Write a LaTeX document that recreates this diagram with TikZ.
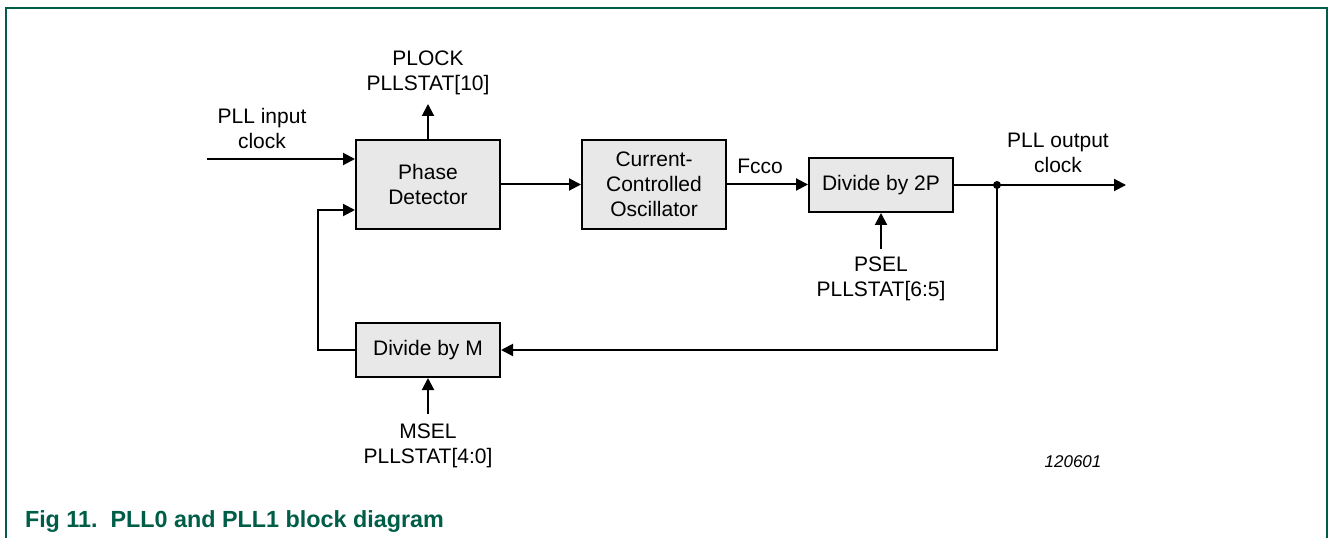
\documentclass[tikz,border=0pt]{standalone}
\usepackage{fontspec}
\setmainfont{Liberation Sans}
\usetikzlibrary{arrows.meta}

\definecolor{framegreen}{RGB}{0,94,72}
\definecolor{boxgray}{RGB}{232,232,232}
\newcommand{\lblfont}{\fontsize{15.75}{18.75}\selectfont}

\tikzset{every picture/.style={line width=1.5pt}}
\tikzset{
  blk/.style={draw, fill=boxgray, line width=1.5pt, inner sep=0pt, align=center, font=\lblfont, minimum width=108pt},
  lbl/.style={inner sep=0.75pt, align=center, font=\lblfont},
  sig/.style={-{Triangle[length=9pt,width=9pt]}, line width=1.5pt},
}

\begin{document}
\begin{tikzpicture}[x=0.75pt,y=0.75pt,yscale=-1]
%set diagram area 1330 x 538
\useasboundingbox (0,0) rectangle (1330,538);

%Frame
\draw [color=framegreen, line width=1.2pt] (6,538) -- (6,8) -- (1327,8) -- (1327,538) ;

%Shapes: Rectangles
\node [blk, minimum height=66.75pt] (pd) at (428,184.5) {Phase\\Detector};
\node [blk, minimum height=66.75pt] (cco) at (654,184.5) {Current-\\Controlled\\Oscillator};
\node [blk, minimum height=40.5pt] (divp) at (881,185) {Divide by 2P};
\node [blk, minimum height=40.5pt] (divm) at (428,350) {Divide by M};

%Free ends
\coordinate (clkin) at (207,159);
\coordinate (plock) at (428,104);
\coordinate (fb) at (318,210);
\coordinate (split) at (997,185);
\coordinate (clkout) at (1126,185);
\coordinate (psel) at (881,249);
\coordinate (msel) at (428,414);

% Text Node
\node [lbl] (inlbl) at (262,128) {PLL input\\clock};
% Text Node
\node [lbl] (plocklbl) at (428,73) {PLOCK\\PLLSTAT[10]};
% Text Node
\node [lbl] (fccolbl) at (760,166) {Fcco};
% Text Node
\node [lbl] (outlbl) at (1058,153) {PLL output\\clock};
% Text Node
\node [lbl] (psellbl) at (881,279) {PSEL\\PLLSTAT[6:5]};
% Text Node
\node [lbl] (msellbl) at (428,445.5) {MSEL\\PLLSTAT[4:0]};
% Text Node
\node [inner sep=0pt, font=\fontsize{12.75}{15}\selectfont\itshape] (figid) at (1073,462) {120601};
% Text Node
\node [anchor=base west, inner sep=0pt, text=framegreen, font=\fontsize{17.5}{21}\selectfont\bfseries] (caption) at (24,527) {Fig 11.\ \ PLL0 and PLL1 block diagram};

%Straight Lines
\draw [sig] (clkin) -- (clkin -| pd.west) ;
\draw [sig] (pd.north) -- (plock) ;
\draw [sig] (pd.east) -- (cco.west |- pd.east) ;
\draw [sig] (cco.east) -- (divp.west |- cco.east) ;
\draw [sig] (divp.east) -- (clkout) ;
\draw [sig] (psel) -- (divp.south) ;
\draw [sig] (split) |- (divm.east) ;
\draw [sig] (divm.west) -| (fb) -- (fb -| pd.west) ;
\draw [sig] (msel) -- (divm.south) ;
\fill (split) circle (4) ;

\end{tikzpicture}
\end{document}
